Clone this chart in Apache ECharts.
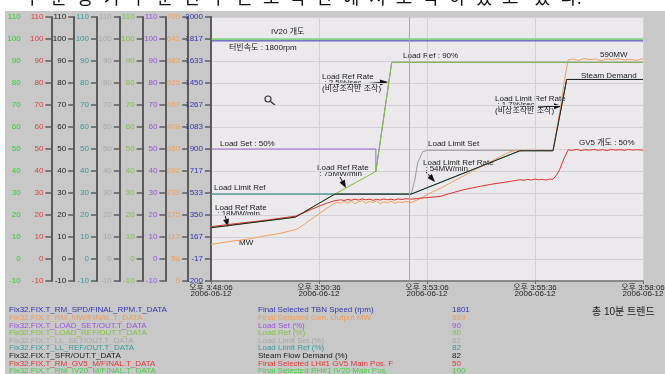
<!DOCTYPE html>
<html lang="ko">
<head>
    <meta charset="UTF-8">
    <title>총 10분 트렌드</title>
    <script src="https://cdn.jsdelivr.net/npm/echarts@6/dist/echarts.min.js"></script>
    <style>
        body{margin:0;background:#fff}
    </style>
</head>
<body>
    <div id="main" style="width: 665px;height: 374px"></div>
    <script>
        // 시간축(초) 눈금 라벨
        var xLabels = ['오후 3:48:06','오후 3:50:36','오후 3:53:06','오후 3:55:36','오후 3:58:06'];
        var dateLabel = '2006-06-12';

        // 각 계열 데이터 [초, 값]
        var rpmData = [[0,1801],[600,1801]];
        var iv20Data = [[0,100],[600,100]];
        var loadSetData = [[0,50],[229,50],[229,39.8],[251,89.4],[600,89.4]];
        var loadRefData = [[0,14.2],[117,19],[172,29.5],[229,39.8],[251,89.4],[600,89.4]];
        var llSetData = [[0,29.5],[278,29.5],[283,35.9],[287,43.6],[294,48.8],[301,49.4],[475,49.4],[494,81.6],[600,81.6]];
        var llRefData = [[0,29.5],[278,29.5],[429,49.2],[475,49.2],[494,81.6],[600,81.6]];
        var sfrData = [[0,14.2],[117,19],[172,29.5],[278,29.5],[429,49.2],[475,49.2],[494,81.6],[600,81.6]];
        var mwData = [[0,97],[10,100],[20,103],[30,106],[40,108],[50,111],[60,114],[70,118],[80,121],[90,124],[100,128],[110,133],[119,137],
            [130,151],[140,165],[150,178],[160,192],[170,204],[175,209],[180,206],[185,211],[190,207],[195,212],[200,205],[205,210],
            [210,213],[215,206],[220,211],[225,208],[230,212],[235,205],[240,210],[245,207],[250,212],[255,206],[260,210],[265,208],
            [270,211],[278,208],[290,218],[304,233],[320,247],[340,268],[360,288],[380,308],[400,328],[410,338],[418,344],[424,346],
            [430,344],[440,347],[450,345],[460,347],[470,345],[475,346],[480,400],[487,480],[492,545],[496,586],[502,589],[510,585],
            [518,590],[526,587],[534,589],[542,584],[550,589],[558,586],[566,590],[574,586],[582,588],[590,585],[600,589]];
        var gv5Data = [[0,14.7],[20,15.5],[40,16.3],[60,17.0],[80,17.8],[100,18.7],[118,19.5],[130,21.2],[140,22.6],[150,24.0],[160,25.3],
            [172,26.5],[180,26.9],[185,26.6],[190,27.1],[195,26.7],[200,27.2],[205,26.8],[210,27.3],[215,26.9],[220,27.2],[225,26.7],
            [230,27.1],[235,26.8],[240,27.3],[245,26.9],[250,27.2],[255,26.8],[260,27.3],[265,27.0],[270,27.4],[278,27.2],[290,27.6],
            [300,27.9],[318,28.4],[330,29.6],[350,31.4],[370,32.8],[390,34.0],[410,35.0],[429,36.0],[435,35.8],[440,36.2],[445,35.9],
            [450,36.3],[455,36.0],[460,36.2],[465,35.9],[470,36.3],[475,36.2],[480,38.2],[484,40.5],[490,45.5],[496,49.6],[502,49.4],
            [508,49.8],[514,49.3],[520,49.7],[526,49.5],[532,49.8],[538,49.4],[544,49.7],[550,49.3],[556,49.8],[562,49.5],[568,49.7],
            [574,49.4],[580,49.8],[586,49.5],[592,49.7],[600,49.5]];
        var cursorTime = 275;

        // 하단 범례 표
        var tagNames = ['Fix32.FIX.T_RM_SPD/FINAL_RPM.T_DATA','Fix32.FIX.T_RM_MW/FINAL.T_DATA','Fix32.FIX.T_LOAD_SET/OUT.T_DATA',
            'Fix32.FIX.T_LOAD_REF/OUT.T_DATA','Fix32.FIX.T_LL_SET/OUT.T_DATA','Fix32.FIX.T_LL_REF/OUT.T_DATA',
            'Fix32.FIX.T_SFR/OUT.T_DATA','Fix32.FIX.T_RM_GV5_M/FINAL.T_DATA','Fix32.FIX.T_RM_IV20_M/FINAL.T_DATA'];
        var descNames = ['Final Selected TBN Speed (rpm)','Final Selected Gen. Output MW','Load Set (%)','Load Ref (%)',
            'Load Limit Set (%)','Load Limit Ref (%)','Steam Flow Demand (%)','Final Selected LH#1 GV5 Main Pos. F',
            'Final Selected RH#1 IV20 Main Pos.'];
        var lastValues = ['1801','589','90','90','82','82','82','50','100'];
        var legendColors = ['#3434b0','#f09a5a','#9a55dd','#82c040','#a8a8a8','#3a9a9a','#1a1a1a','#e03838','#44cc44'];

        var FONT = '"Liberation Sans", "Noto Sans CJK KR", sans-serif';

        // 왼쪽 y축 9개 (왼쪽 -> 오른쪽)
        var axisDefs = [
            {min:-10, max:110, interval:10, color:'#33cc33'},
            {min:-10, max:110, interval:10, color:'#e04040'},
            {min:-10, max:110, interval:10, color:'#222222'},
            {min:-10, max:110, interval:10, color:'#3a9a9a'},
            {min:-10, max:110, interval:10, color:'#a8a8a8'},
            {min:-10, max:110, interval:10, color:'#80c040'},
            {min:-10, max:110, interval:10, color:'#9955dd'},
            {min:0, max:700, interval:700/12, color:'#f0a060'},
            {min:-200, max:2000, interval:2200/12, color:'#3434b0'}
        ];
        var yAxes = axisDefs.map(function (d, i) {
            return {
                type:'value', position:'left', offset:(8 - i) * 22.8,
                min:d.min, max:d.max, interval:d.interval,
                axisLine:{show:true, lineStyle:{color:'#5c5c5c', width:2}},
                axisTick:{show:true, length:6, lineStyle:{color:'#5c5c5c', width:1.5}},
                axisLabel:{color:d.color, fontSize:8, fontFamily:FONT, margin:8,
                    formatter:function (v) { return Math.round(v); }},
                splitLine:{show:i === 0, lineStyle:{color:'#d2d0d6', width:1}}
            };
        });

        function line(data, axis, color, extra) {
            var s = {type:'line', data:data, yAxisIndex:axis, showSymbol:false, silent:true,
                lineStyle:{color:color, width:1}, itemStyle:{color:color}};
            for (var k in extra) s[k] = extra[k];
            return s;
        }

        function txt(x, y, text, extra) {
            var st = {x:x, y:y, text:text, fill:'#1a1a1a', fontSize:8, fontFamily:FONT, textVerticalAlign:'middle'};
            for (var k in extra) st[k] = extra[k];
            return {type:'text', silent:true, style:st};
        }
        function arrow(x1, y1, x2, y2) {
            var a = Math.atan2(y2 - y1, x2 - x1), L = 8, W = 3;
            var bx = x2 - L * Math.cos(a), by = y2 - L * Math.sin(a);
            return [
                {type:'line', silent:true, shape:{x1:x1, y1:y1, x2:bx, y2:by}, style:{stroke:'#111', lineWidth:1}},
                {type:'polygon', silent:true, shape:{points:[[x2,y2],[bx - W * Math.sin(a), by + W * Math.cos(a)],[bx + W * Math.sin(a), by - W * Math.cos(a)]]}, style:{fill:'#111'}}
            ];
        }

        var g = [
            {type:'rect', silent:true, shape:{x:0, y:0, width:665, height:11}, style:{fill:'#fff'}},
            {type:'rect', silent:true, shape:{x:0, y:0, width:5, height:374}, style:{fill:'#fff'}},
            txt(24, 8, '주  분  동  가  수  분  변  수  는  조  작  반  에  서  조  작  하  였  고   있  다.', {fontSize:18, fill:'#111', textVerticalAlign:'bottom'}),
            // 그래프 주석
            txt(271, 32, 'IV20 개도'),
            txt(229, 48, '터빈속도 : 1800rpm'),
            txt(403, 56, 'Load Ref : 90%'),
            txt(322, 77, 'Load Ref Rate'),
            txt(322, 82.5, ' : 2.5%/sec'),
            txt(322, 88.5, '(비상조작반 조작)'),
            txt(220, 144, 'Load Set : 50%'),
            txt(317, 168, 'Load Ref Rate'),
            txt(317, 174, ' : 75MW/min'),
            txt(214, 188, 'Load Limit Ref'),
            txt(215, 208, 'Load Ref Rate'),
            txt(215, 214, ' : 18MW/min'),
            txt(239, 243, 'MW'),
            txt(428, 144, 'Load Limit Set'),
            txt(423, 163, 'Load Limit Ref Rate'),
            txt(423, 169, ' : 54MW/min'),
            txt(579, 143, 'GV5 개도 : 50%'),
            txt(600, 55, '590MW'),
            txt(581, 76, 'Steam Demand'),
            txt(495, 99, 'Load Limit Ref Rate'),
            txt(495, 105, ' : 1.7%/sec'),
            txt(495, 111, '(비상조작반 조작)'),
            // 돋보기 아이콘
            {type:'circle', silent:true, shape:{cx:268, cy:99, r:3}, style:{fill:'none', stroke:'#333', lineWidth:1.2}},
            {type:'line', silent:true, shape:{x1:270.5, y1:101.5, x2:275, y2:105}, style:{stroke:'#333', lineWidth:1.5}},
            txt(592, 312, '총 10분 트렌드', {fontSize:10, fill:'#222'})
        ];
        g = g.concat(arrow(368, 83.5, 388, 82), arrow(340, 177, 346, 188), arrow(225, 215, 228, 227),
            arrow(426, 172, 435, 182), arrow(538, 107, 562, 106));
        for (var i = 0; i < tagNames.length; i++) {
            var yy = 310 + i * 7.65;
            g.push(txt(9, yy, tagNames[i], {fill:legendColors[i]}));
            g.push(txt(258, yy, descNames[i], {fill:legendColors[i]}));
            g.push(txt(452, yy, lastValues[i], {fill:legendColors[i]}));
        }

        var mCharts = echarts.init(document.getElementById('main'));
        var option = {
            animation:false,
            backgroundColor:'#c8c8c8',
            grid:{left:211, top:17, width:432, height:264, show:true, backgroundColor:'#ebe9ec', borderWidth:0,
                containLabel:false, outerBoundsMode:'none'},
            xAxis:{
                type:'value', min:0, max:600, interval:150,
                axisLine:{show:true, onZero:false, lineStyle:{color:'#6c6c6c', width:1.5}},
                axisTick:{show:true, length:3, lineStyle:{color:'#6c6c6c'}},
                axisLabel:{color:'#222', fontSize:8, fontFamily:FONT, lineHeight:6, margin:4,
                    formatter:function (v) { return xLabels[Math.round(v / 150)] + '\n' + dateLabel; }},
                splitLine:{show:true, lineStyle:{color:'#d2d0d6', width:1}}
            },
            yAxis:yAxes,
            series:[
                line(rpmData, 8, '#3434b0', {markLine:{silent:true, symbol:'none', label:{show:false},
                    lineStyle:{color:'#aaaaaa', width:1, type:'solid'}, data:[{xAxis:cursorTime}]}}),
                line(iv20Data, 0, '#44cc44'),
                line(llSetData, 4, '#999999'),
                line(llRefData, 3, '#3a9a9a'),
                line(loadSetData, 6, '#9966cc'),
                line(loadRefData, 5, '#7ec03c'),
                line(mwData, 7, '#f0a060'),
                line(gv5Data, 1, '#e03030'),
                line(sfrData, 2, '#222222')
            ],
            graphic:g
        };
        mCharts.setOption(option);
    </script>
</body>
</html>
